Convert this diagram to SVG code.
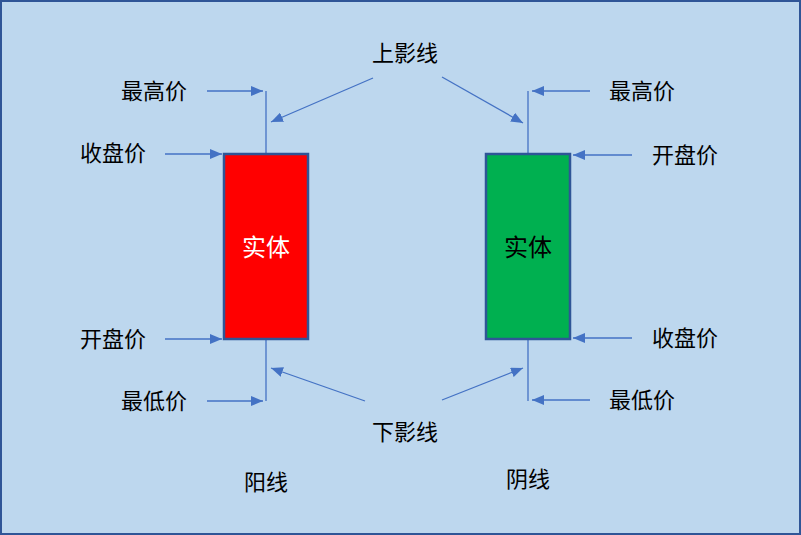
<svg xmlns="http://www.w3.org/2000/svg" width="801" height="535" viewBox="0 0 801 535">
<style>
.t{font-family:"Noto Sans CJK SC","Noto Sans",sans-serif;font-size:22px;fill:#000;text-anchor:middle;dominant-baseline:central}
.c{stroke:#4472C4;stroke-width:1.3;fill:none}
.a{marker-end:url(#ah)}
.body{stroke:#2F5597;stroke-width:2.5}
</style>
<defs>
<marker id="ah" viewBox="0 0 12 10" refX="12" refY="5" markerWidth="12" markerHeight="10" markerUnits="userSpaceOnUse" orient="auto">
<path d="M0,0 L12,5 L0,10 Z" fill="#4472C4"/>
</marker>
</defs>
<rect x="1" y="1" width="799" height="533" fill="#BDD7EE" stroke="#2F5597" stroke-width="2"/>
<g id="connectors">
<line class="c" x1="266" y1="91" x2="266" y2="154"/>
<line class="c" x1="266" y1="339" x2="266" y2="401"/>
<line class="c" x1="528" y1="91" x2="528" y2="154"/>
<line class="c" x1="528" y1="339" x2="528" y2="401"/>
<line class="c a" x1="207" y1="91" x2="263" y2="91"/>
<line class="c a" x1="165" y1="154" x2="222" y2="154"/>
<line class="c a" x1="165" y1="339" x2="222" y2="339"/>
<line class="c a" x1="207" y1="401" x2="263" y2="401"/>
<line class="c a" x1="590" y1="91" x2="532" y2="91"/>
<line class="c a" x1="632" y1="155" x2="573" y2="155"/>
<line class="c a" x1="632" y1="338" x2="573" y2="338"/>
<line class="c a" x1="590" y1="400" x2="532" y2="400"/>
<line class="c a" x1="373" y1="78" x2="271" y2="122"/>
<line class="c a" x1="442" y1="77" x2="523" y2="123"/>
<line class="c a" x1="365" y1="401" x2="271" y2="368"/>
<line class="c a" x1="442" y1="400" x2="523" y2="368"/>
</g>
<g id="yang-body">
<rect class="body" x="224" y="154" width="84" height="185" fill="#FF0000"/>
<text class="t" x="266" y="245" style="fill:#fff;font-size:24px">实体</text>
</g>
<g id="yin-body">
<rect class="body" x="486" y="154" width="84" height="185" fill="#00B050"/>
<text class="t" x="528" y="245" style="font-size:24px">实体</text>
</g>
<g id="labels">
<text class="t" x="405" y="51">上影线</text>
<text class="t" x="405" y="430">下影线</text>
<text class="t" x="154" y="89">最高价</text>
<text class="t" x="113" y="151">收盘价</text>
<text class="t" x="113" y="337">开盘价</text>
<text class="t" x="154" y="399">最低价</text>
<text class="t" x="642" y="89">最高价</text>
<text class="t" x="685" y="153">开盘价</text>
<text class="t" x="685" y="336">收盘价</text>
<text class="t" x="642" y="398">最低价</text>
<text class="t" x="266" y="480">阳线</text>
<text class="t" x="528" y="477">阴线</text>
</g>
</svg>
